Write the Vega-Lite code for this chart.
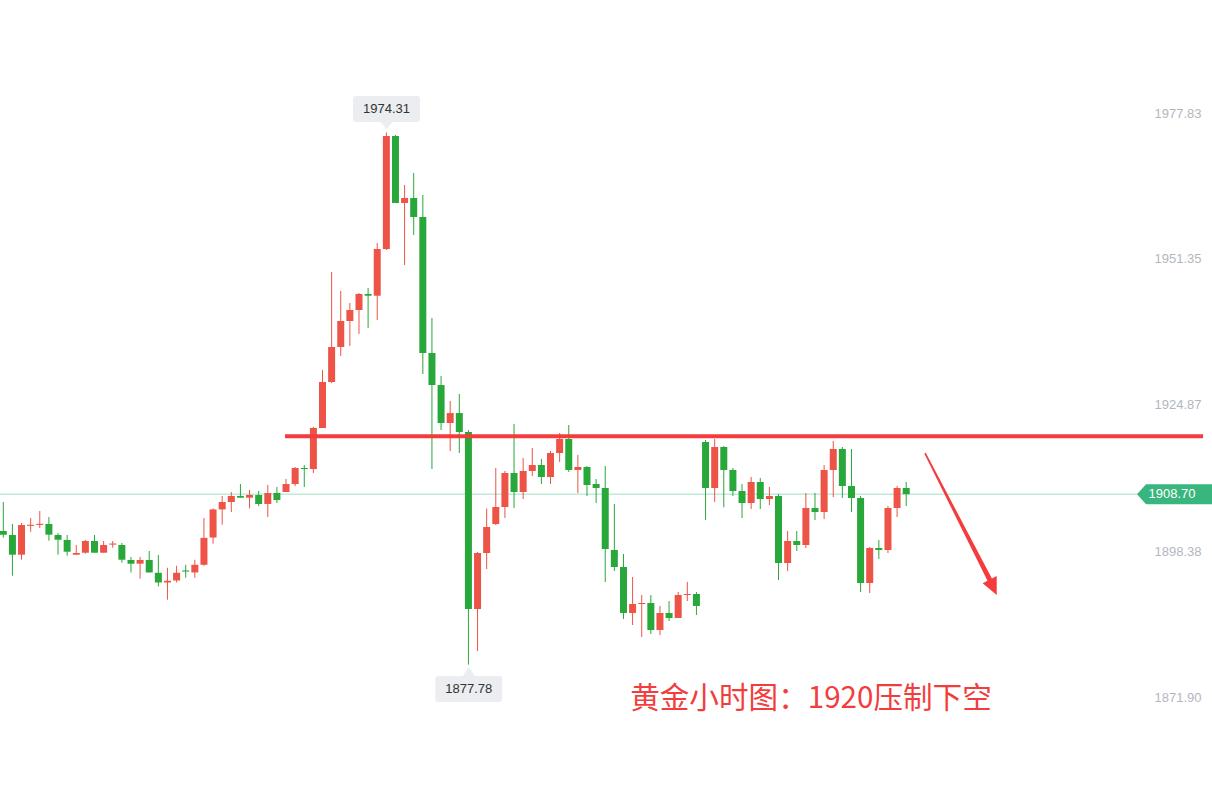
{
 "$schema": "https://vega.github.io/schema/vega-lite/v6.json",
 "width": 1212,
 "height": 806,
 "padding": 0,
 "autosize": {"type": "none"},
 "background": "#ffffff",
 "config": {"view": {"stroke": null}, "scale": {"continuousPadding": 0}},
 "data": {"values": [
  {"i":0,"o":1902.02,"h":1907.28,"l":1900.80,"c":1901.35},
  {"i":1,"o":1901.29,"h":1903.29,"l":1893.91,"c":1897.72},
  {"i":2,"o":1897.72,"h":1903.47,"l":1896.81,"c":1903.10},
  {"i":3,"o":1902.95,"h":1904.37,"l":1901.88,"c":1903.15},
  {"i":4,"o":1903.12,"h":1905.64,"l":1902.56,"c":1903.32},
  {"i":5,"o":1903.29,"h":1904.55,"l":1900.25,"c":1901.35},
  {"i":6,"o":1901.29,"h":1901.65,"l":1897.72,"c":1900.43},
  {"i":7,"o":1900.38,"h":1901.29,"l":1897.54,"c":1898.26},
  {"i":8,"o":1897.72,"h":1899.48,"l":1897.72,"c":1898.03},
  {"i":9,"o":1898.08,"h":1900.38,"l":1897.90,"c":1900.20},
  {"i":10,"o":1900.20,"h":1901.29,"l":1898.08,"c":1898.08},
  {"i":11,"o":1898.08,"h":1900.20,"l":1898.08,"c":1899.48},
  {"i":12,"o":1899.55,"h":1900.20,"l":1898.99,"c":1899.75},
  {"i":13,"o":1899.48,"h":1899.84,"l":1896.27,"c":1896.81},
  {"i":14,"o":1896.76,"h":1897.30,"l":1894.50,"c":1896.09},
  {"i":15,"o":1896.09,"h":1897.30,"l":1893.36,"c":1896.76},
  {"i":16,"o":1896.76,"h":1898.39,"l":1894.50,"c":1894.50},
  {"i":17,"o":1894.44,"h":1897.66,"l":1891.96,"c":1892.68},
  {"i":18,"o":1892.68,"h":1895.35,"l":1889.55,"c":1892.99},
  {"i":19,"o":1893.04,"h":1895.71,"l":1892.68,"c":1894.44},
  {"i":20,"o":1894.86,"h":1895.89,"l":1893.54,"c":1894.66},
  {"i":21,"o":1894.50,"h":1896.80,"l":1893.54,"c":1895.89},
  {"i":22,"o":1895.89,"h":1904.37,"l":1895.71,"c":1900.77},
  {"i":23,"o":1900.83,"h":1906.11,"l":1899.71,"c":1905.93},
  {"i":24,"o":1905.93,"h":1908.37,"l":1903.16,"c":1907.28},
  {"i":25,"o":1907.28,"h":1909.09,"l":1905.46,"c":1908.37},
  {"i":26,"o":1908.37,"h":1910.54,"l":1908.06,"c":1908.06},
  {"i":27,"o":1908.06,"h":1909.45,"l":1906.11,"c":1908.55},
  {"i":28,"o":1908.55,"h":1909.27,"l":1906.55,"c":1906.92},
  {"i":29,"o":1906.92,"h":1910.36,"l":1904.55,"c":1908.91},
  {"i":30,"o":1908.91,"h":1910.00,"l":1907.10,"c":1907.64},
  {"i":31,"o":1909.09,"h":1911.45,"l":1909.09,"c":1910.54},
  {"i":32,"o":1910.54,"h":1913.62,"l":1910.18,"c":1913.44},
  {"i":33,"o":1913.44,"h":1913.98,"l":1910.00,"c":1913.26},
  {"i":34,"o":1913.26,"h":1920.88,"l":1912.54,"c":1920.70},
  {"i":35,"o":1920.70,"h":1931.22,"l":1920.70,"c":1929.04},
  {"i":36,"o":1929.04,"h":1948.99,"l":1928.86,"c":1935.39},
  {"i":37,"o":1935.39,"h":1945.55,"l":1933.76,"c":1940.10},
  {"i":38,"o":1940.10,"h":1943.37,"l":1935.57,"c":1942.10},
  {"i":39,"o":1942.10,"h":1945.18,"l":1937.75,"c":1945.00},
  {"i":40,"o":1945.00,"h":1946.09,"l":1938.83,"c":1944.69},
  {"i":41,"o":1944.69,"h":1954.25,"l":1940.28,"c":1953.16},
  {"i":42,"o":1953.16,"h":1974.31,"l":1952.98,"c":1973.66},
  {"i":43,"o":1973.66,"h":1973.84,"l":1961.51,"c":1961.51},
  {"i":44,"o":1961.51,"h":1964.77,"l":1950.26,"c":1962.41},
  {"i":45,"o":1962.41,"h":1966.95,"l":1955.71,"c":1958.97},
  {"i":46,"o":1958.97,"h":1962.96,"l":1930.49,"c":1934.30},
  {"i":47,"o":1934.30,"h":1940.65,"l":1913.26,"c":1928.49},
  {"i":48,"o":1928.49,"h":1930.13,"l":1920.33,"c":1921.60},
  {"i":49,"o":1921.60,"h":1925.60,"l":1916.52,"c":1923.41},
  {"i":50,"o":1923.41,"h":1926.87,"l":1916.16,"c":1919.96},
  {"i":51,"o":1919.96,"h":1920.33,"l":1877.78,"c":1887.87},
  {"i":52,"o":1887.87,"h":1898.21,"l":1880.25,"c":1898.03},
  {"i":53,"o":1898.03,"h":1906.11,"l":1895.12,"c":1902.74},
  {"i":54,"o":1903.29,"h":1913.44,"l":1903.10,"c":1906.37},
  {"i":55,"o":1906.37,"h":1912.90,"l":1904.37,"c":1912.54},
  {"i":56,"o":1912.54,"h":1921.42,"l":1906.19,"c":1909.09},
  {"i":57,"o":1909.09,"h":1915.26,"l":1907.82,"c":1912.90},
  {"i":58,"o":1912.90,"h":1917.07,"l":1911.99,"c":1913.99},
  {"i":59,"o":1913.99,"h":1915.08,"l":1910.54,"c":1911.81},
  {"i":60,"o":1911.81,"h":1916.52,"l":1910.54,"c":1916.16},
  {"i":61,"o":1916.16,"h":1919.79,"l":1914.53,"c":1918.70},
  {"i":62,"o":1918.70,"h":1921.24,"l":1912.72,"c":1913.08},
  {"i":63,"o":1913.08,"h":1915.80,"l":1908.91,"c":1913.62},
  {"i":64,"o":1913.62,"h":1913.81,"l":1908.37,"c":1910.36},
  {"i":65,"o":1910.54,"h":1911.45,"l":1907.10,"c":1909.82},
  {"i":66,"o":1909.82,"h":1913.81,"l":1892.77,"c":1898.75},
  {"i":67,"o":1898.57,"h":1906.92,"l":1894.76,"c":1895.49},
  {"i":68,"o":1895.49,"h":1897.85,"l":1886.06,"c":1887.15},
  {"i":69,"o":1887.15,"h":1893.67,"l":1884.97,"c":1888.78},
  {"i":70,"o":1888.78,"h":1890.41,"l":1882.80,"c":1888.96},
  {"i":71,"o":1888.96,"h":1890.41,"l":1883.34,"c":1884.06},
  {"i":72,"o":1884.06,"h":1888.42,"l":1883.16,"c":1887.15},
  {"i":73,"o":1887.15,"h":1889.32,"l":1885.69,"c":1886.24},
  {"i":74,"o":1886.24,"h":1890.95,"l":1886.24,"c":1890.41},
  {"i":75,"o":1890.41,"h":1892.77,"l":1889.32,"c":1890.59},
  {"i":76,"o":1890.59,"h":1890.95,"l":1886.78,"c":1888.42},
  {"i":77,"o":1918.16,"h":1918.52,"l":1904.01,"c":1909.82},
  {"i":78,"o":1909.82,"h":1918.70,"l":1907.28,"c":1917.25},
  {"i":79,"o":1917.25,"h":1917.43,"l":1906.32,"c":1913.08},
  {"i":80,"o":1913.08,"h":1913.44,"l":1908.37,"c":1909.27},
  {"i":81,"o":1909.27,"h":1910.54,"l":1904.37,"c":1907.10},
  {"i":82,"o":1907.10,"h":1911.81,"l":1906.01,"c":1910.90},
  {"i":83,"o":1910.90,"h":1911.63,"l":1906.01,"c":1907.82},
  {"i":84,"o":1907.82,"h":1910.00,"l":1906.73,"c":1908.37},
  {"i":85,"o":1908.37,"h":1908.73,"l":1893.13,"c":1896.21},
  {"i":86,"o":1896.21,"h":1902.01,"l":1894.76,"c":1900.20},
  {"i":87,"o":1900.20,"h":1902.01,"l":1898.39,"c":1899.48},
  {"i":88,"o":1899.48,"h":1908.91,"l":1898.93,"c":1906.19},
  {"i":89,"o":1906.19,"h":1908.91,"l":1904.01,"c":1905.46},
  {"i":90,"o":1905.46,"h":1913.99,"l":1904.19,"c":1913.08},
  {"i":91,"o":1913.08,"h":1918.34,"l":1908.18,"c":1916.89},
  {"i":92,"o":1916.89,"h":1917.25,"l":1908.00,"c":1910.18},
  {"i":93,"o":1910.18,"h":1916.89,"l":1905.46,"c":1908.00},
  {"i":94,"o":1908.00,"h":1908.37,"l":1890.95,"c":1892.59},
  {"i":95,"o":1892.59,"h":1899.11,"l":1890.77,"c":1898.93},
  {"i":96,"o":1898.93,"h":1900.38,"l":1896.94,"c":1898.57},
  {"i":97,"o":1898.57,"h":1906.55,"l":1898.03,"c":1906.19},
  {"i":98,"o":1906.19,"h":1910.18,"l":1904.55,"c":1909.82},
  {"i":99,"o":1909.82,"h":1910.90,"l":1906.55,"c":1908.70}
 ]},
 "layer": [
  {
   "data": {"values": [{}]},
   "mark": {"type": "rule", "color": "#9fdfc3", "strokeWidth": 1},
   "encoding": {
    "x": {"datum": -0.362, "type": "quantitative", "scale": {"domain": [-0.362, 132.53], "nice": false, "zero": false, "padding": 0}, "axis": null},
    "x2": {"datum": 124.5},
    "y": {"datum": 1908.70, "type": "quantitative", "scale": {"domain": [1852.14, 1998.325], "nice": false, "zero": false},
      "axis": {"orient": "right", "offset": -11, "values": [1871.9, 1898.38, 1924.87, 1951.35, 1977.83], "format": ".2f", "domain": false, "ticks": false, "grid": false, "labelAlign": "right", "labelBaseline": "middle", "labelPadding": 0, "labelColor": "#b3b6c0", "labelFont": "Liberation Sans", "labelFontSize": 13, "title": null, "labelOverlap": false, "labelFlush": false}}
   }
  },
  {
   "mark": {"type": "rule", "strokeWidth": 1},
   "encoding": {
    "x": {"field": "i", "type": "quantitative", "scale": {"domain": [-0.362, 132.53], "nice": false, "zero": false, "padding": 0}, "axis": null},
    "y": {"field": "l", "type": "quantitative", "scale": {"domain": [1852.14, 1998.325], "nice": false, "zero": false},
      "axis": {"orient": "right", "offset": -11, "values": [1871.9, 1898.38, 1924.87, 1951.35, 1977.83], "format": ".2f", "domain": false, "ticks": false, "grid": false, "labelAlign": "right", "labelBaseline": "middle", "labelPadding": 0, "labelColor": "#b3b6c0", "labelFont": "Liberation Sans", "labelFontSize": 13, "title": null, "labelOverlap": false, "labelFlush": false}},
    "y2": {"field": "h"},
    "color": {"condition": {"test": "datum.c >= datum.o", "value": "#ee5347"}, "value": "#28a83a"}
   }
  },
  {
   "mark": {"type": "bar", "size": 7},
   "encoding": {
    "x": {"field": "i", "type": "quantitative", "scale": {"domain": [-0.362, 132.53], "nice": false, "zero": false, "padding": 0}, "axis": null},
    "y": {"field": "o", "type": "quantitative", "scale": {"domain": [1852.14, 1998.325], "nice": false, "zero": false},
      "axis": {"orient": "right", "offset": -11, "values": [1871.9, 1898.38, 1924.87, 1951.35, 1977.83], "format": ".2f", "domain": false, "ticks": false, "grid": false, "labelAlign": "right", "labelBaseline": "middle", "labelPadding": 0, "labelColor": "#b3b6c0", "labelFont": "Liberation Sans", "labelFontSize": 13, "title": null, "labelOverlap": false, "labelFlush": false}},
    "y2": {"field": "c"},
    "color": {"condition": {"test": "datum.c >= datum.o", "value": "#ee5347"}, "value": "#28a83a"}
   }
  },
  {
   "data": {"values": [{}]},
   "mark": {"type": "rule", "color": "#f53b3b", "strokeWidth": 4},
   "encoding": {
    "x": {"datum": 30.89, "type": "quantitative", "scale": {"domain": [-0.362, 132.53], "nice": false, "zero": false, "padding": 0}, "axis": null},
    "x2": {"datum": 131.55},
    "y": {"datum": 1919.19, "type": "quantitative", "scale": {"domain": [1852.14, 1998.325], "nice": false, "zero": false},
      "axis": {"orient": "right", "offset": -11, "values": [1871.9, 1898.38, 1924.87, 1951.35, 1977.83], "format": ".2f", "domain": false, "ticks": false, "grid": false, "labelAlign": "right", "labelBaseline": "middle", "labelPadding": 0, "labelColor": "#b3b6c0", "labelFont": "Liberation Sans", "labelFontSize": 13, "title": null, "labelOverlap": false, "labelFlush": false}}
   }
  },
  {
   "data": {"values": [{}]},
   "mark": {"type": "point", "shape": "M-0.47,-0.951 L0.412,0.727 L0.476,0.693 L0.476,0.947 L0.289,0.791 L0.353,0.758 L-0.49,-0.941 Z", "size": 22500, "filled": true, "color": "#f53b3b", "opacity": 1, "strokeWidth": 0},
   "encoding": {
    "x": {"datum": 105.01, "type": "quantitative", "scale": {"domain": [-0.362, 132.53], "nice": false, "zero": false, "padding": 0}, "axis": null},
    "y": {"datum": 1903.29, "type": "quantitative", "scale": {"domain": [1852.14, 1998.325], "nice": false, "zero": false},
      "axis": {"orient": "right", "offset": -11, "values": [1871.9, 1898.38, 1924.87, 1951.35, 1977.83], "format": ".2f", "domain": false, "ticks": false, "grid": false, "labelAlign": "right", "labelBaseline": "middle", "labelPadding": 0, "labelColor": "#b3b6c0", "labelFont": "Liberation Sans", "labelFontSize": 13, "title": null, "labelOverlap": false, "labelFlush": false}}
   }
  },
  {
   "data": {"values": [{}]},
   "mark": {"type": "point", "shape": "M-1,0 L-0.76,-0.267 L1,-0.267 L1,0.267 L-0.76,0.267 Z", "size": 5625, "filled": true, "color": "#38b67e", "opacity": 1, "strokeWidth": 0},
   "encoding": {
    "x": {"datum": 128.42, "type": "quantitative", "scale": {"domain": [-0.362, 132.53], "nice": false, "zero": false, "padding": 0}, "axis": null},
    "y": {"datum": 1908.70, "type": "quantitative", "scale": {"domain": [1852.14, 1998.325], "nice": false, "zero": false},
      "axis": {"orient": "right", "offset": -11, "values": [1871.9, 1898.38, 1924.87, 1951.35, 1977.83], "format": ".2f", "domain": false, "ticks": false, "grid": false, "labelAlign": "right", "labelBaseline": "middle", "labelPadding": 0, "labelColor": "#b3b6c0", "labelFont": "Liberation Sans", "labelFontSize": 13, "title": null, "labelOverlap": false, "labelFlush": false}}
   }
  },
  {
   "data": {"values": [{}]},
   "mark": {"type": "text", "color": "#ffffff", "font": "Liberation Sans", "fontSize": 13, "align": "center", "baseline": "middle"},
   "encoding": {
    "x": {"datum": 128.15, "type": "quantitative", "scale": {"domain": [-0.362, 132.53], "nice": false, "zero": false, "padding": 0}, "axis": null},
    "y": {"datum": 1908.70, "type": "quantitative", "scale": {"domain": [1852.14, 1998.325], "nice": false, "zero": false},
      "axis": {"orient": "right", "offset": -11, "values": [1871.9, 1898.38, 1924.87, 1951.35, 1977.83], "format": ".2f", "domain": false, "ticks": false, "grid": false, "labelAlign": "right", "labelBaseline": "middle", "labelPadding": 0, "labelColor": "#b3b6c0", "labelFont": "Liberation Sans", "labelFontSize": 13, "title": null, "labelOverlap": false, "labelFlush": false}},
    "text": {"value": "1908.70"}
   }
  },
  {
   "data": {"values": [{}]},
   "mark": {"type": "point", "shape": "M-0.7625,-0.325 L0.7625,-0.325 Q0.8375,-0.325 0.8375,-0.25 L0.8375,0.25 Q0.8375,0.325 0.7625,0.325 L0.15,0.325 L0,0.5 L-0.15,0.325 L-0.7625,0.325 Q-0.8375,0.325 -0.8375,0.25 L-0.8375,-0.25 Q-0.8375,-0.325 -0.7625,-0.325 Z", "size": 6400, "filled": true, "color": "#ebedf0", "opacity": 1, "strokeWidth": 0},
   "encoding": {
    "x": {"datum": 42.02, "type": "quantitative", "scale": {"domain": [-0.362, 132.53], "nice": false, "zero": false, "padding": 0}, "axis": null},
    "y": {"datum": 1978.555, "type": "quantitative", "scale": {"domain": [1852.14, 1998.325], "nice": false, "zero": false},
      "axis": {"orient": "right", "offset": -11, "values": [1871.9, 1898.38, 1924.87, 1951.35, 1977.83], "format": ".2f", "domain": false, "ticks": false, "grid": false, "labelAlign": "right", "labelBaseline": "middle", "labelPadding": 0, "labelColor": "#b3b6c0", "labelFont": "Liberation Sans", "labelFontSize": 13, "title": null, "labelOverlap": false, "labelFlush": false}}
   }
  },
  {
   "data": {"values": [{}]},
   "mark": {"type": "text", "color": "#333333", "font": "Liberation Sans", "fontSize": 13, "align": "center", "baseline": "middle"},
   "encoding": {
    "x": {"datum": 42.02, "type": "quantitative", "scale": {"domain": [-0.362, 132.53], "nice": false, "zero": false, "padding": 0}, "axis": null},
    "y": {"datum": 1978.555, "type": "quantitative", "scale": {"domain": [1852.14, 1998.325], "nice": false, "zero": false},
      "axis": {"orient": "right", "offset": -11, "values": [1871.9, 1898.38, 1924.87, 1951.35, 1977.83], "format": ".2f", "domain": false, "ticks": false, "grid": false, "labelAlign": "right", "labelBaseline": "middle", "labelPadding": 0, "labelColor": "#b3b6c0", "labelFont": "Liberation Sans", "labelFontSize": 13, "title": null, "labelOverlap": false, "labelFlush": false}},
    "text": {"value": "1974.31"}
   }
  },
  {
   "data": {"values": [{}]},
   "mark": {"type": "point", "shape": "M-0.7625,0.325 L0.7625,0.325 Q0.8375,0.325 0.8375,0.25 L0.8375,-0.25 Q0.8375,-0.325 0.7625,-0.325 L0.15,-0.325 L0,-0.55 L-0.15,-0.325 L-0.7625,-0.325 Q-0.8375,-0.325 -0.8375,-0.25 L-0.8375,0.25 Q-0.8375,0.325 -0.7625,0.325 Z", "size": 6400, "filled": true, "color": "#ebedf0", "opacity": 1, "strokeWidth": 0},
   "encoding": {
    "x": {"datum": 51.04, "type": "quantitative", "scale": {"domain": [-0.362, 132.53], "nice": false, "zero": false, "padding": 0}, "axis": null},
    "y": {"datum": 1873.36, "type": "quantitative", "scale": {"domain": [1852.14, 1998.325], "nice": false, "zero": false},
      "axis": {"orient": "right", "offset": -11, "values": [1871.9, 1898.38, 1924.87, 1951.35, 1977.83], "format": ".2f", "domain": false, "ticks": false, "grid": false, "labelAlign": "right", "labelBaseline": "middle", "labelPadding": 0, "labelColor": "#b3b6c0", "labelFont": "Liberation Sans", "labelFontSize": 13, "title": null, "labelOverlap": false, "labelFlush": false}}
   }
  },
  {
   "data": {"values": [{}]},
   "mark": {"type": "text", "color": "#333333", "font": "Liberation Sans", "fontSize": 13, "align": "center", "baseline": "middle"},
   "encoding": {
    "x": {"datum": 51.04, "type": "quantitative", "scale": {"domain": [-0.362, 132.53], "nice": false, "zero": false, "padding": 0}, "axis": null},
    "y": {"datum": 1873.36, "type": "quantitative", "scale": {"domain": [1852.14, 1998.325], "nice": false, "zero": false},
      "axis": {"orient": "right", "offset": -11, "values": [1871.9, 1898.38, 1924.87, 1951.35, 1977.83], "format": ".2f", "domain": false, "ticks": false, "grid": false, "labelAlign": "right", "labelBaseline": "middle", "labelPadding": 0, "labelColor": "#b3b6c0", "labelFont": "Liberation Sans", "labelFontSize": 13, "title": null, "labelOverlap": false, "labelFlush": false}},
    "text": {"value": "1877.78"}
   }
  },
  {
   "data": {"values": [{}]},
   "mark": {"type": "text", "color": "#f23d3d", "font": "Noto Sans CJK SC", "fontSize": 29.6, "align": "center", "baseline": "middle"},
   "encoding": {
    "x": {"datum": 88.56, "type": "quantitative", "scale": {"domain": [-0.362, 132.53], "nice": false, "zero": false, "padding": 0}, "axis": null},
    "y": {"datum": 1871.55, "type": "quantitative", "scale": {"domain": [1852.14, 1998.325], "nice": false, "zero": false},
      "axis": {"orient": "right", "offset": -11, "values": [1871.9, 1898.38, 1924.87, 1951.35, 1977.83], "format": ".2f", "domain": false, "ticks": false, "grid": false, "labelAlign": "right", "labelBaseline": "middle", "labelPadding": 0, "labelColor": "#b3b6c0", "labelFont": "Liberation Sans", "labelFontSize": 13, "title": null, "labelOverlap": false, "labelFlush": false}},
    "text": {"value": "黄金小时图：1920压制下空"}
   }
  }
 ]
}
